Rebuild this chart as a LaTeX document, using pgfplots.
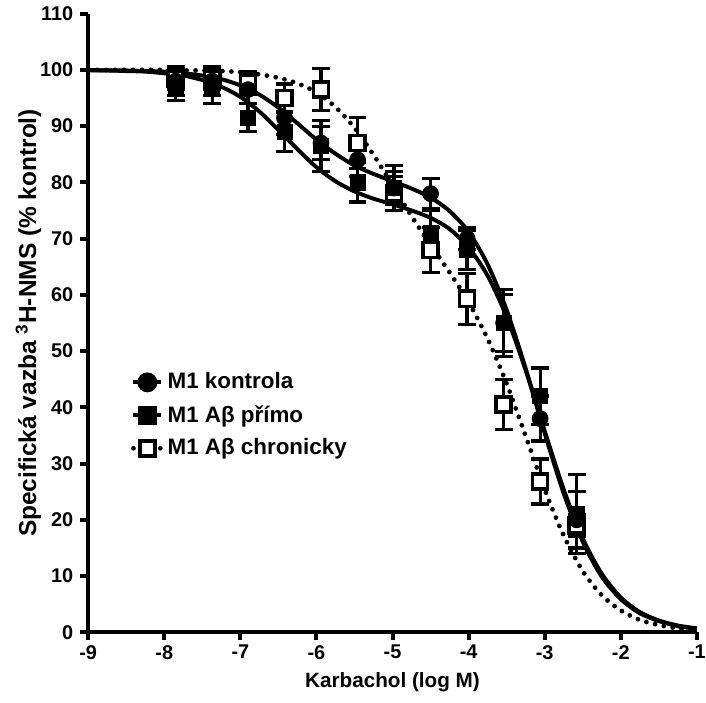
\documentclass[border=0pt]{standalone}
\usepackage{fontspec}
\setmainfont{Liberation Sans}
\usepackage{pgfplots}
\pgfplotsset{compat=1.18}
\usepackage{pgfplotstable}

% measured points: log M, mean, SEM
\pgfplotstableread{
x y e
-7.85 98.0 2.5
-7.37 98.0 2.5
-6.90 96.5 2.5
-6.42 91.5 3.0
-5.94 87.0 3.0
-5.46 84.0 3.0
-4.98 79.0 3.0
-4.50 78.0 2.7
-4.02 70.0 2.0
-3.54 55.0 5.0
-3.06 38.0 4.0
-2.58 20.0 5.0
}\kontrola

\pgfplotstableread{
x y e
-7.85 97.0 2.5
-7.37 97.0 3.0
-6.90 91.5 2.5
-6.42 89.0 3.5
-5.94 86.5 4.5
-5.46 80.0 3.5
-4.98 79.0 4.0
-4.50 71.0 4.0
-4.02 68.0 3.5
-3.54 55.0 6.0
-3.06 42.0 5.0
-2.58 21.0 7.0
}\primo

\pgfplotstableread{
x y e
-7.85 98.5 2.0
-7.37 98.5 2.0
-6.90 97.7 2.0
-6.42 95.0 2.5
-5.94 96.5 3.7
-5.46 87.0 4.5
-4.98 78.0 3.0
-4.50 68.0 4.0
-4.02 59.3 4.5
-3.54 40.5 4.5
-3.06 26.8 4.0
-2.58 19.0 2.0
}\chron

% fitted curves
\pgfplotstableread{
x y
-9 100.0
-8.75 99.9
-8.5 99.9
-8.25 99.8
-8 99.7
-7.75 99.4
-7.5 99.0
-7.25 98.35
-7 97.25
-6.75 95.6
-6.5 93.3
-6.25 90.5
-6 87.6
-5.75 85.1
-5.5 83.0
-5.25 81.5
-5 80.2
-4.75 78.9
-4.5 77.3
-4.25 74.9
-4 71.2
-3.75 65.4
-3.5 57.3
-3.25 46.9
-3 35.4
-2.75 24.7
-2.5 16.1
-2.25 9.9
-2 5.9
-1.75 3.4
-1.5 2.0
-1.25 1.1
-1 0.6
}\fitK

\pgfplotstableread{
x y
-9 99.9
-8.75 99.9
-8.5 99.8
-8.25 99.7
-8 99.4
-7.75 99.0
-7.5 98.2
-7.25 97.0
-7 95.2
-6.75 92.6
-6.5 89.3
-6.25 85.9
-6 82.7
-5.75 80.2
-5.5 78.4
-5.25 77.1
-5 76.1
-4.75 75.0
-4.5 73.7
-4.25 71.7
-4 68.4
-3.75 63.4
-3.5 56.1
-3.25 46.6
-3 35.8
-2.75 25.4
-2.5 16.7
-2.25 10.4
-2 6.2
-1.75 3.6
-1.5 2.1
-1.25 1.2
-1 0.7
}\fitP

\pgfplotstableread{
x y
-9 100.0
-8.75 100.0
-8.5 100.0
-8.25 100.0
-8 100.0
-7.75 99.9
-7.5 99.9
-7.25 99.8
-7 99.6
-6.75 99.2
-6.5 98.6
-6.25 97.6
-6 96.0
-5.75 93.4
-5.5 89.7
-5.25 84.9
-5 79.5
-4.75 74.0
-4.5 68.9
-4.25 64.0
-4 58.7
-3.75 52.2
-3.5 44.2
-3.25 34.9
-3 25.4
-2.75 17.2
-2.5 10.9
-2.25 6.6
-2 3.9
-1.75 2.2
-1.5 1.3
-1.25 0.7
-1 0.4
}\fitC

\begin{document}
\begin{tikzpicture}
\begin{axis}[
	scale only axis, width=306pt, height=311pt,
	xmin=-9, xmax=-1, ymin=0, ymax=110,
	axis x line*=bottom, axis y line*=left,
	axis line style={-, line width=2pt},
	xtick={-9,...,-1}, ytick={0,10,...,110},
	tick align=outside, major tick length=4pt,
	tick style={line width=2pt, black},
	/pgf/number format/assume math mode=true,
	tick label style={font=\bfseries\fontsize{10}{11}\selectfont},
	xticklabel style={yshift=1pt},
	xlabel={Karbachol (log M)},
	ylabel={Specifická vazba \textsuperscript{3}H-NMS (\% kontrol)},
	xlabel style={font=\bfseries\fontsize{10.4}{12}\selectfont, yshift=0.5pt},
	ylabel style={font=\bfseries\fontsize{12.3}{13}\selectfont, yshift=-7.5pt},
	clip=false,
	legend style={at={(0.06,0.433)}, anchor=north west, draw=none, fill=none,
		font=\bfseries\fontsize{11.25}{13}\selectfont, row sep=2.8pt},
	legend cell align=left,
	legend image code/.code={\draw[mark repeat=2,mark phase=2] plot coordinates {(0pt,0pt) (7pt,0pt) (14pt,0pt)};},
]
\addlegendimage{black, line width=2pt, mark=*, mark size=4pt}
\addlegendentry{M1 kontrola}
\addlegendimage{black, line width=2pt, mark=square*, mark size=3.8pt}
\addlegendentry{M1 Aβ přímo}
\addlegendimage{black, line width=2.4pt, line cap=round, dash pattern=on 0pt off 4.5pt,
	mark=square*, mark size=3.8pt, mark options={solid, fill=white, line width=1.8pt}}
\addlegendentry{M1 Aβ chronicky}

\addplot[black, line width=2.4pt, line cap=round, dash pattern=on 0pt off 4.5pt, smooth, forget plot] table {\fitC};
\addplot[black, line width=2pt, smooth, forget plot] table {\fitK};
\addplot[black, line width=2pt, smooth, forget plot] table {\fitP};

\addplot[black, only marks, mark=square*, mark size=3.8pt, mark options={fill=white, line width=1.8pt}, forget plot,
	error bars/.cd, y dir=both, y explicit,
	error bar style={line width=1.6pt, solid},
	error mark options={rotate=90, line width=1.6pt, mark size=4.5pt, black, solid}]
	table[x=x, y=y, y error=e] {\chron};
\addplot[black, only marks, mark=*, mark size=4pt, forget plot,
	error bars/.cd, y dir=both, y explicit,
	error bar style={line width=1.6pt, solid},
	error mark options={rotate=90, line width=1.6pt, mark size=4.5pt, black, solid}]
	table[x=x, y=y, y error=e] {\kontrola};
\addplot[black, only marks, mark=square*, mark size=3.8pt, forget plot,
	error bars/.cd, y dir=both, y explicit,
	error bar style={line width=1.6pt, solid},
	error mark options={rotate=90, line width=1.6pt, mark size=4.5pt, black, solid}]
	table[x=x, y=y, y error=e] {\primo};
\end{axis}
\pgfresetboundingbox
\path ([xshift=-4.5pt, yshift=-2pt]current axis.outer south west) rectangle ([xshift=4.6pt]current axis.north east |- current axis.outer north east);
\end{tikzpicture}
\end{document}
